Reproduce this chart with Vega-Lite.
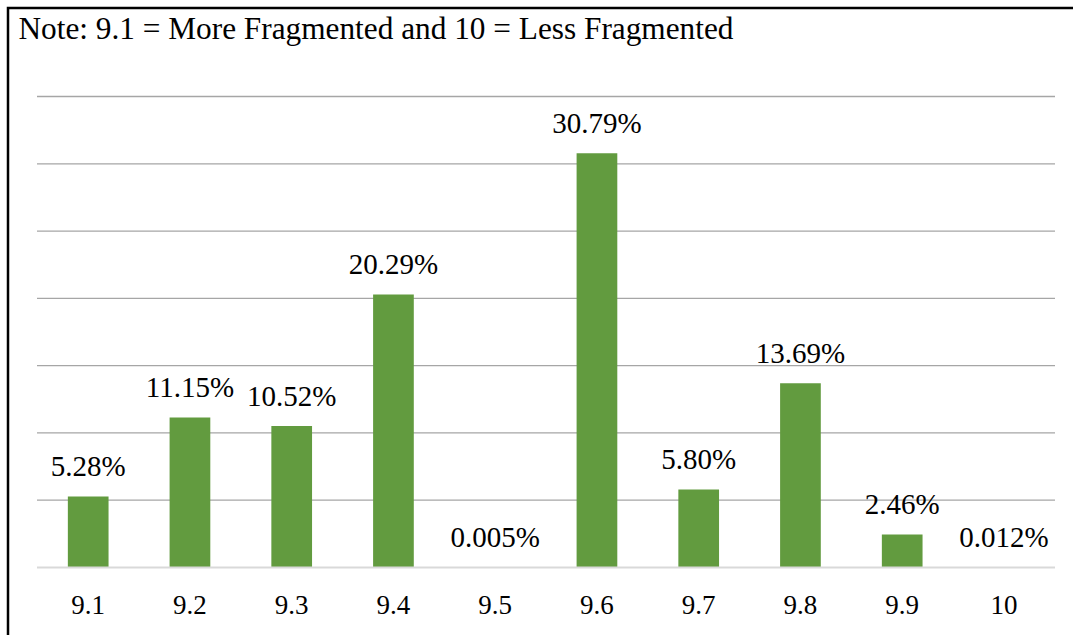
{
  "$schema": "https://vega.github.io/schema/vega-lite/v6.json",
  "width": 1069,
  "height": 630,
  "autosize": {"type": "none"},
  "padding": {"left": 8, "top": 8, "right": 0, "bottom": 0},
  "background": "white",
  "config": {"view": {"stroke": "black", "strokeWidth": 2.5}, "font": "Liberation Serif"},
  "data": {
    "values": [
      {"cat": "9.1", "v": 5.28, "label": "5.28%"},
      {"cat": "9.2", "v": 11.15, "label": "11.15%"},
      {"cat": "9.3", "v": 10.52, "label": "10.52%"},
      {"cat": "9.4", "v": 20.29, "label": "20.29%"},
      {"cat": "9.5", "v": 0.005, "label": "0.005%"},
      {"cat": "9.6", "v": 30.79, "label": "30.79%"},
      {"cat": "9.7", "v": 5.80, "label": "5.80%"},
      {"cat": "9.8", "v": 13.69, "label": "13.69%"},
      {"cat": "9.9", "v": 2.46, "label": "2.46%"},
      {"cat": "10", "v": 0.012, "label": "0.012%"}
    ]
  },
  "resolve": {"scale": {"x": "independent"}, "axis": {"x": "independent"}},
  "layer": [
    {
      "data": {"values": [{"g": 5}, {"g": 10}, {"g": 15}, {"g": 20}, {"g": 25}, {"g": 30}, {"g": 35}]},
      "mark": {"type": "rule", "color": "#a6a6a6", "strokeWidth": 1.3},
      "encoding": {
        "y": {"field": "g", "type": "quantitative", "scale": {"domain": [-5.239, 41.577], "nice": false, "zero": false}, "axis": null},
        "x": {"datum": 0, "type": "quantitative", "scale": {"domain": [-0.028487, 1.021611], "nice": false, "zero": false}, "axis": null},
        "x2": {"datum": 1}
      }
    },
    {
      "mark": {"type": "bar", "color": "#629b3f"},
      "encoding": {
        "x": {
          "field": "cat",
          "type": "nominal",
          "sort": null,
          "scale": {
            "type": "band",
            "domain": ["9.1", "9.2", "9.3", "9.4", "9.5", "9.6", "9.7", "9.8", "9.9", "10"],
            "paddingInner": 0.6,
            "paddingOuter": 0.55307,
            "align": 0.53176
          },
          "axis": {
            "title": null,
            "orient": "bottom",
            "offset": -25,
            "domain": false,
            "ticks": false,
            "grid": false,
            "labelAngle": 0,
            "labelBaseline": "alphabetic",
            "labelPadding": 0,
            "labelFont": "Liberation Serif",
            "labelFontSize": 27,
            "labelColor": "black"
          }
        },
        "y": {
          "field": "v",
          "type": "quantitative",
          "scale": {"domain": [-5.239, 41.577], "nice": false, "zero": false},
          "axis": null
        },
        "y2": {"datum": 0}
      }
    },
    {
      "data": {"values": [{"g": 0}]},
      "mark": {"type": "rule", "color": "#d9d9d9", "strokeWidth": 2},
      "encoding": {
        "y": {"field": "g", "type": "quantitative"},
        "x": {"datum": 0, "type": "quantitative", "scale": {"domain": [-0.028487, 1.021611], "nice": false, "zero": false}, "axis": null},
        "x2": {"datum": 1}
      }
    },
    {
      "mark": {"type": "text", "baseline": "alphabetic", "dy": -20, "font": "Liberation Serif", "fontSize": 29, "color": "black"},
      "encoding": {
        "x": {
          "field": "cat",
          "type": "nominal",
          "sort": null,
          "scale": {
            "type": "band",
            "domain": ["9.1", "9.2", "9.3", "9.4", "9.5", "9.6", "9.7", "9.8", "9.9", "10"],
            "paddingInner": 0.6,
            "paddingOuter": 0.55307,
            "align": 0.53176
          },
          "axis": null
        },
        "y": {"field": "v", "type": "quantitative"},
        "text": {"field": "label"}
      }
    },
    {
      "data": {"values": [{"note": "Note: 9.1 = More Fragmented and 10 = Less Fragmented"}]},
      "mark": {"type": "text", "align": "left", "baseline": "alphabetic", "font": "Liberation Serif", "fontSize": 31.3, "color": "black"},
      "encoding": {
        "x": {"datum": -0.0182, "type": "quantitative", "scale": {"domain": [-0.028487, 1.021611], "nice": false, "zero": false}, "axis": null},
        "y": {"datum": 39.27, "type": "quantitative"},
        "text": {"field": "note"}
      }
    }
  ]
}
